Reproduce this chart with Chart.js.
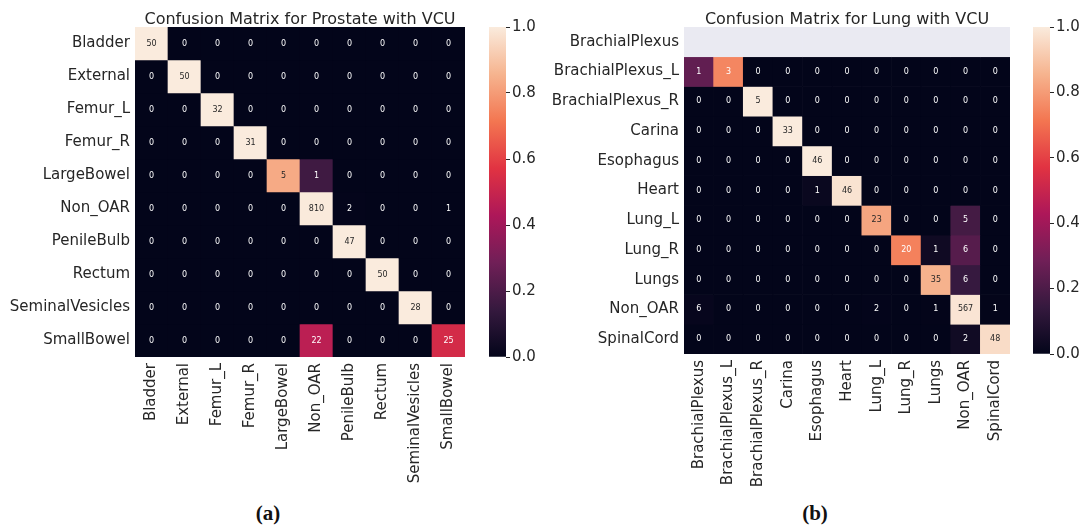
<!DOCTYPE html>
<html>
<head>
<meta charset="utf-8">
<script src="https://cdn.jsdelivr.net/npm/chart.js@4.4.0/dist/chart.umd.min.js"></script>
<style>
  body { margin: 0; background: #fff; width: 1083px; height: 527px; position: relative; overflow: hidden; }
  canvas { position: absolute; top: 0; }
  .legenda { position: absolute; top: 513px; transform: translate(-50%, -50%); font-family: "Liberation Serif"; font-weight: bold; font-size: 21px; color: #111; }
</style>
</head>
<body>
<canvas id="mapa-prostata" style="left:0px" width="480" height="500"></canvas>
<canvas id="barra-prostata" style="left:470px" width="70" height="500"></canvas>
<canvas id="mapa-pulmao" style="left:545px" width="480" height="500"></canvas>
<canvas id="barra-pulmao" style="left:1014px" width="69" height="500"></canvas>
<div class="legenda" style="left:268px">(a)</div>
<div class="legenda" style="left:815px">(b)</div>
<script>
// Dados
const rotulosProstata = ['Bladder', 'External', 'Femur_L', 'Femur_R', 'LargeBowel', 'Non_OAR', 'PenileBulb', 'Rectum', 'SeminalVesicles', 'SmallBowel'];
const contagensProstata = [
  [50, 0, 0, 0, 0, 0, 0, 0, 0, 0],
  [0, 50, 0, 0, 0, 0, 0, 0, 0, 0],
  [0, 0, 32, 0, 0, 0, 0, 0, 0, 0],
  [0, 0, 0, 31, 0, 0, 0, 0, 0, 0],
  [0, 0, 0, 0, 5, 1, 0, 0, 0, 0],
  [0, 0, 0, 0, 0, 810, 2, 0, 0, 1],
  [0, 0, 0, 0, 0, 0, 47, 0, 0, 0],
  [0, 0, 0, 0, 0, 0, 0, 50, 0, 0],
  [0, 0, 0, 0, 0, 0, 0, 0, 28, 0],
  [0, 0, 0, 0, 0, 22, 0, 0, 0, 25]
];

const rotulosPulmao = ['BrachialPlexus', 'BrachialPlexus_L', 'BrachialPlexus_R', 'Carina', 'Esophagus', 'Heart', 'Lung_L', 'Lung_R', 'Lungs', 'Non_OAR', 'SpinalCord'];
const contagensPulmao = [
  [0, 0, 0, 0, 0, 0, 0, 0, 0, 0, 0],
  [1, 3, 0, 0, 0, 0, 0, 0, 0, 0, 0],
  [0, 0, 5, 0, 0, 0, 0, 0, 0, 0, 0],
  [0, 0, 0, 33, 0, 0, 0, 0, 0, 0, 0],
  [0, 0, 0, 0, 46, 0, 0, 0, 0, 0, 0],
  [0, 0, 0, 0, 1, 46, 0, 0, 0, 0, 0],
  [0, 0, 0, 0, 0, 0, 23, 0, 0, 5, 0],
  [0, 0, 0, 0, 0, 0, 0, 20, 1, 6, 0],
  [0, 0, 0, 0, 0, 0, 0, 0, 35, 6, 0],
  [6, 0, 0, 0, 0, 0, 2, 0, 1, 567, 1],
  [0, 0, 0, 0, 0, 0, 0, 0, 0, 2, 48]
];

const ticksBarra = [0, 0.2, 0.4, 0.6, 0.8, 1.0];

// paleta "rocket" do seaborn
const paradasRocket = [
  [0, '#03051a'], [1 / 7, '#35193e'], [2 / 7, '#701f57'], [3 / 7, '#ad1759'],
  [4 / 7, '#e13342'], [5 / 7, '#f37651'], [6 / 7, '#f6b48f'], [1, '#faebdd']
];
const COR_TEXTO = '#262626';
const FONTE = 'DejaVu Sans';

function hexParaRgb(h) {
  return [parseInt(h.slice(1, 3), 16), parseInt(h.slice(3, 5), 16), parseInt(h.slice(5, 7), 16)];
}

function corRocket(v) {
  for (let k = 1; k < paradasRocket.length; k++) {
    const [p1, c1] = paradasRocket[k - 1];
    const [p2, c2] = paradasRocket[k];
    if (v <= p2) {
      const t = (v - p1) / (p2 - p1);
      const a = hexParaRgb(c1), b = hexParaRgb(c2);
      return a.map((x, i) => Math.round(x + (b[i] - x) * t));
    }
  }
  return hexParaRgb(paradasRocket[paradasRocket.length - 1][1]);
}

function luminancia(rgb) {
  const l = rgb.map(c => {
    c = c / 255;
    return c <= 0.03928 ? c / 12.92 : Math.pow((c + 0.055) / 1.055, 2.4);
  });
  return 0.2126 * l[0] + 0.7152 * l[1] + 0.0722 * l[2];
}

function criarMapa(id, rotulos, contagens, titulo, larguraEixoY, alturaEixoX) {
  // normaliza por linha
  const normalizado = contagens.map(linha => {
    const soma = linha.reduce((a, b) => a + b, 0);
    return linha.map(c => soma ? c / soma : NaN);
  });

  const datasets = rotulos.map((_, i) => ({
    data: rotulos.map(() => [i, i + 1]),
    backgroundColor: normalizado[i].map(v => isNaN(v) ? '#eaeaf2' : `rgb(${corRocket(v).join(',')})`),
    borderWidth: 0,
    barPercentage: 1,
    categoryPercentage: 1,
    grouped: false
  }));

  const anotacoes = {
    id: 'anotacoes',
    afterDatasetsDraw(chart) {
      const { ctx, scales: { x, y } } = chart;
      ctx.save();
      ctx.font = `8px "${FONTE}"`;
      ctx.textAlign = 'center';
      ctx.textBaseline = 'middle';
      contagens.forEach((linha, i) => {
        if (isNaN(normalizado[i][0])) return;
        linha.forEach((c, j) => {
          ctx.fillStyle = luminancia(corRocket(normalizado[i][j])) > 0.408 ? COR_TEXTO : '#ffffff';
          ctx.fillText(String(c), x.getPixelForValue(j), y.getPixelForValue(i + 0.5));
        });
      });
      ctx.restore();
    }
  };

  new Chart(document.getElementById(id).getContext('2d'), {
    type: 'bar',
    data: { labels: rotulos, datasets },
    options: {
      responsive: false,
      animation: false,
      layout: { padding: { top: 0, right: 15, left: 0, bottom: 0 } },
      plugins: {
        legend: { display: false },
        tooltip: { enabled: false },
        title: {
          display: true,
          text: titulo,
          fullSize: false,
          color: COR_TEXTO,
          font: { family: FONTE, size: 16, weight: 'normal', lineHeight: 1.25 },
          padding: { top: 10, bottom: -3 }
        }
      },
      scales: {
        x: {
          grid: { display: false, drawTicks: false },
          border: { display: false },
          ticks: { autoSkip: false, minRotation: 90, maxRotation: 90, padding: 6, color: COR_TEXTO, font: { family: FONTE, size: 15 } },
          afterFit: s => { s.height = alturaEixoX; }
        },
        y: {
          type: 'linear',
          min: 0,
          max: rotulos.length,
          reverse: true,
          grid: { display: false, drawTicks: false },
          border: { display: false },
          afterBuildTicks: s => { s.ticks = rotulos.map((_, i) => ({ value: i + 0.5 })); },
          ticks: { padding: 5, color: COR_TEXTO, font: { family: FONTE, size: 15 }, callback: (v, i) => rotulos[i] },
          afterFit: s => { s.width = larguraEixoY; }
        }
      }
    },
    plugins: [anotacoes]
  });
}

function criarBarra(id, larguraEixo, paddingBaixo) {
  new Chart(document.getElementById(id).getContext('2d'), {
    type: 'bar',
    data: {
      labels: [''],
      datasets: [{
        data: [[ticksBarra[0], ticksBarra[ticksBarra.length - 1]]],
        backgroundColor: ctx => {
          const area = ctx.chart.chartArea;
          if (!area) return '#000';
          const g = ctx.chart.ctx.createLinearGradient(0, area.bottom, 0, area.top);
          paradasRocket.forEach(([p, c]) => g.addColorStop(p, c));
          return g;
        },
        borderWidth: 0,
        barPercentage: 1,
        categoryPercentage: 1
      }]
    },
    options: {
      responsive: false,
      animation: false,
      layout: { padding: { top: 27, left: 19, right: 0, bottom: paddingBaixo } },
      plugins: { legend: { display: false }, tooltip: { enabled: false } },
      scales: {
        x: { display: false },
        y: {
          position: 'right',
          min: 0,
          max: 1,
          afterBuildTicks: s => { s.ticks = ticksBarra.map(v => ({ value: v })); },
          grid: { drawOnChartArea: false, tickLength: 4, color: COR_TEXTO },
          border: { display: false },
          ticks: { padding: 2, color: COR_TEXTO, font: { family: FONTE, size: 15 }, callback: v => Number(v).toFixed(1) },
          afterFit: s => { s.width = larguraEixo; }
        }
      }
    }
  });
}

criarMapa('mapa-prostata', rotulosProstata, contagensProstata, 'Confusion Matrix for Prostate with VCU', 135, 143);
criarBarra('barra-prostata', 34, 143);
criarMapa('mapa-pulmao', rotulosPulmao, contagensPulmao, 'Confusion Matrix for Lung with VCU', 139, 146);
criarBarra('barra-pulmao', 33, 146);
</script>
</body>
</html>
